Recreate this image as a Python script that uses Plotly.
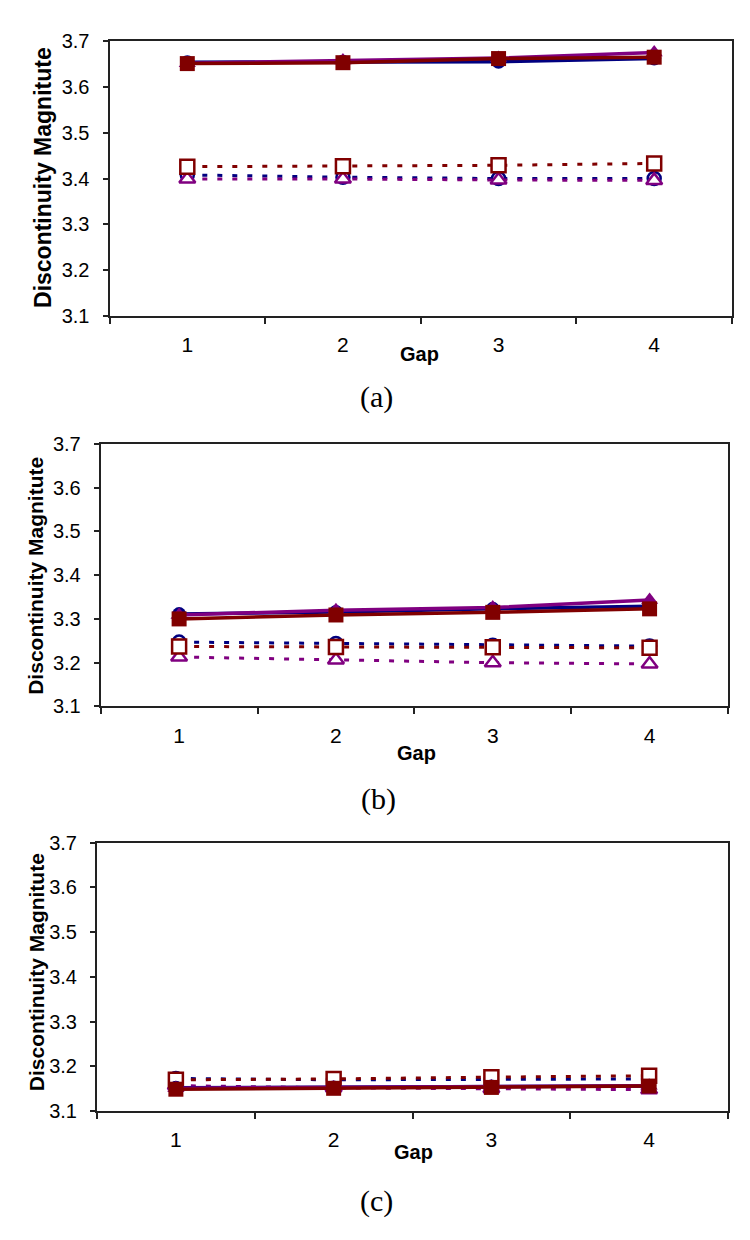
import plotly.graph_objects as go

W, H = 750, 1240

gaps = [1, 2, 3, 4]
y_ticks = [3.1, 3.2, 3.3, 3.4, 3.5, 3.6, 3.7]
y_tick_text = ["3.1", "3.2", "3.3", "3.4", "3.5", "3.6", "3.7"]
x_tick_text = ["1", "2", "3", "4"]
x_title = "Gap"
y_title = "Discontinuity Magnitute"
captions = ["(a)", "(b)", "(c)"]

# Panel (a)
a_blue_solid = [3.654, 3.655, 3.655, 3.662]
a_purple_solid = [3.652, 3.658, 3.663, 3.675]
a_red_solid = [3.651, 3.653, 3.662, 3.665]
a_blue_dot = [3.408, 3.403, 3.400, 3.400]
a_purple_dot = [3.399, 3.399, 3.397, 3.396]
a_red_dot = [3.426, 3.427, 3.429, 3.433]

# Panel (b)
b_blue_solid = [3.311, 3.316, 3.323, 3.329]
b_purple_solid = [3.309, 3.320, 3.326, 3.343]
b_red_solid = [3.300, 3.309, 3.315, 3.323]
b_blue_dot = [3.247, 3.244, 3.240, 3.238]
b_purple_dot = [3.213, 3.206, 3.200, 3.197]
b_red_dot = [3.237, 3.236, 3.235, 3.234]

# Panel (c)
c_blue_solid = [3.152, 3.153, 3.155, 3.156]
c_purple_solid = [3.151, 3.153, 3.155, 3.157]
c_red_solid = [3.149, 3.151, 3.153, 3.156]
c_blue_dot = [3.173, 3.170, 3.171, 3.172]
c_purple_dot = [3.157, 3.152, 3.150, 3.148]
c_red_dot = [3.170, 3.172, 3.176, 3.179]

panels = [
    (a_blue_solid, a_purple_solid, a_red_solid, a_blue_dot, a_purple_dot, a_red_dot),
    (b_blue_solid, b_purple_solid, b_red_solid, b_blue_dot, b_purple_dot, b_red_dot),
    (c_blue_solid, c_purple_solid, c_red_solid, c_blue_dot, c_purple_dot, c_red_dot),
]

NAVY = "#000080"
PURPLE = "#800080"
MAROON = "#800000"

# plot-area boxes in pixels: left, right, top, bottom
boxes = [
    (109.5, 732, 30.7, 310.5),
    (100.7, 728, 440.7, 708),
    (97, 728, 846.7, 1120),
]
gap_pos = [(419, 349), (416, 755), (413, 1162)]
cap_pos = [(376, 393), (378, 802), (376, 1212)]
ytitle_pos = [(43, 170), (36, 575), (36.5, 979)]
ytitle_size = [23, 21, 21]

fig = go.Figure()

dot_dash = "5px,10px"
ARIAL = "Arial, Liberation Sans, sans-serif"

for i, (bs, ps, rs, bd, pd_, rd) in enumerate(panels):
    xa = "x" if i == 0 else f"x{i+1}"
    ya = "y" if i == 0 else f"y{i+1}"
    common = dict(x=gaps, xaxis=xa, yaxis=ya, mode="lines+markers", showlegend=False, cliponaxis=False)
    # dotted series, open (white-filled) markers
    fig.add_trace(go.Scatter(y=bd, line=dict(color=NAVY, width=3, dash=dot_dash),
                             marker=dict(symbol="circle", size=13, color="white",
                                         line=dict(color=NAVY, width=2.5)), **common))
    fig.add_trace(go.Scatter(y=pd_, line=dict(color=PURPLE, width=3, dash=dot_dash),
                             marker=dict(symbol="triangle-up", size=14, color="white",
                                         line=dict(color=PURPLE, width=2.5)), **common))
    fig.add_trace(go.Scatter(y=rd, line=dict(color=MAROON, width=3, dash=dot_dash),
                             marker=dict(symbol="square", size=14, color="white",
                                         line=dict(color=MAROON, width=2.5)), **common))
    # solid series, filled markers
    fig.add_trace(go.Scatter(y=bs, line=dict(color=NAVY, width=3.5),
                             marker=dict(symbol="circle", size=14, color=NAVY), **common))
    fig.add_trace(go.Scatter(y=ps, line=dict(color=PURPLE, width=3.5),
                             marker=dict(symbol="triangle-up", size=15, color=PURPLE), **common))
    fig.add_trace(go.Scatter(y=rs, line=dict(color=MAROON, width=3.5),
                             marker=dict(symbol="square", size=15, color=MAROON), **common))

layout = dict(
    width=W, height=H,
    margin=dict(l=0, r=0, t=0, b=0),
    paper_bgcolor="white", plot_bgcolor="white",
    font=dict(family=ARIAL, color="black"),
)

annotations = []
for i, (l, r, t, b) in enumerate(boxes):
    sfx = "" if i == 0 else str(i + 1)
    layout["xaxis" + sfx] = dict(
        domain=[l / W, r / W], anchor="y" + sfx,
        range=[0.5, 4.5], tickvals=gaps, ticktext=x_tick_text,
        ticks="", ticklabelstandoff=9,
        tickfont=dict(size=21, family=ARIAL),
        showgrid=False, zeroline=False,
        showline=True, mirror=True, linecolor="#222222", linewidth=2,
        minor=dict(tickvals=[0.5, 1.5, 2.5, 3.5, 4.5], ticks="outside", ticklen=6,
                   tickwidth=1.5, tickcolor="#222222"),
        fixedrange=True,
    )
    layout["yaxis" + sfx] = dict(
        domain=[1 - b / H, 1 - t / H], anchor="x" + sfx,
        range=[3.1, 3.7], tickvals=y_ticks, ticktext=y_tick_text,
        ticks="outside", ticklen=5, tickwidth=1.5, tickcolor="#222222",
        ticklabelstandoff=9,
        tickfont=dict(size=20, family=ARIAL),
        showgrid=False, zeroline=False,
        showline=True, mirror=True, linecolor="#222222", linewidth=2,
        fixedrange=True,
    )
    gx, gy = gap_pos[i]
    annotations.append(dict(text=f"<b>{x_title}</b>", x=gx / W, y=1 - gy / H, xref="paper", yref="paper",
                            xanchor="center", yanchor="middle", showarrow=False,
                            font=dict(size=20, family=ARIAL)))
    cx, cy = cap_pos[i]
    annotations.append(dict(text=captions[i], x=cx / W, y=1 - cy / H, xref="paper", yref="paper",
                            xanchor="center", yanchor="middle", showarrow=False,
                            font=dict(size=30, family="Times New Roman, Liberation Serif, serif")))
    tx, ty = ytitle_pos[i]
    annotations.append(dict(text=f"<b>{y_title}</b>", x=tx / W, y=1 - ty / H, xref="paper", yref="paper",
                            xanchor="center", yanchor="middle", showarrow=False, textangle=-90,
                            font=dict(size=ytitle_size[i], family=ARIAL)))

layout["annotations"] = annotations
fig.update_layout(**layout)
fig.write_html("out.html", config={"displayModeBar": False},
               post_script="document.body.style.margin='0';")
